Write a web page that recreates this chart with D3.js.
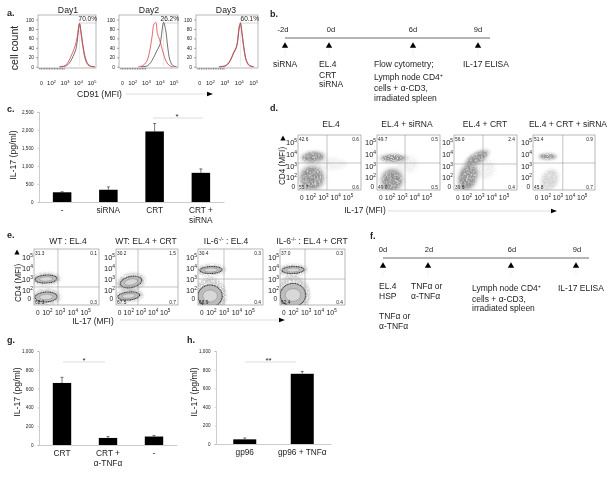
<!DOCTYPE html>
<html><head><meta charset="utf-8">
<script src="https://cdnjs.cloudflare.com/ajax/libs/d3/7.8.5/d3.min.js"></script>
<style>
html,body{margin:0;padding:0;background:#fff}
svg{display:block;filter:blur(0.3px)}
text{font-family:"Liberation Sans",Arial,sans-serif;fill:#222}
</style></head><body>
<svg id="c" width="615" height="477"></svg>
<script>
// ---------- DATA ----------
const histDays = ["Day1","Day2","Day3"];
const histPct = ["70.0%","26.2%","60.1%"];
// [MFI decade, % of max]
const day1Black = [[2.6,0],[3.0,1],[3.2,4],[3.4,11],[3.6,22],[3.8,36],[3.9,52],[4.0,78],[4.08,91],[4.2,72],[4.35,42],[4.5,20],[4.7,6],[4.9,1],[5.2,0]];
const day1Red = [[2.6,0],[3.0,2],[3.2,8],[3.4,19],[3.6,32],[3.75,44],[3.9,62],[4.0,82],[4.08,92],[4.2,68],[4.35,38],[4.5,16],[4.7,4],[4.9,1],[5.2,0]];
const day2Black = [[2.6,0],[3.0,1],[3.2,5],[3.4,13],[3.6,24],[3.8,36],[4.0,48],[4.1,68],[4.25,94],[4.4,78],[4.55,42],[4.7,15],[4.9,3],[5.2,0]];
const day2Red = [[2.4,0],[2.7,2],[3.0,10],[3.2,28],[3.4,62],[3.55,90],[3.68,94],[3.8,70],[3.95,58],[4.1,42],[4.3,22],[4.5,8],[4.75,1],[5.0,0]];
const day3Black = [[2.6,0],[3.0,1],[3.2,5],[3.4,14],[3.6,28],[3.8,40],[3.9,56],[4.0,82],[4.08,93],[4.2,70],[4.35,35],[4.5,13],[4.7,3],[5.0,0]];
const day3Red = [[2.6,0],[3.0,2],[3.2,6],[3.4,15],[3.6,30],[3.8,42],[3.9,60],[4.0,86],[4.08,90],[4.2,66],[4.35,32],[4.5,11],[4.7,2],[5.0,0]];
const histYTicks = [0,20,40,60,80,100];

const cCats = ["-","siRNA","CRT","CRT +|siRNA"];
const cVals = [270,340,1960,810];
const cTops = [285,420,2180,920];
const cTicks = [0,500,1000,1500,2000,2500];

const gCats = ["CRT","CRT +|α-TNFα","-"];
const gVals = [660,75,90];
const gTops = [720,90,102];
const hCats = ["gp96","gp96 + TNFα"];
const hVals = [50,755];
const hTops = [65,780];
const ghTicks = [0,200,400,600,800,1000];

const dTitles = ["EL.4","EL.4 + siRNA","EL.4 + CRT","EL.4 + CRT + siRNA"];
const dQuads = [["42.6","0.6","55.7","0.6"],["49.7","0.5","49.0","0.5"],["56.0","2.4","39.6","0.4"],["51.4","0.9","45.8","0.7"]];
// cloud: [x decade, y decade, rx, ry, rotation, opacity]
const dClouds1 = [[2.16,3.79,.85,.43,-5,1],[2.08,2.0,.9,.95,-10,1],[3.6,3.2,1.2,.5,0,.1]];
const dClouds2 = [[2.25,3.7,.95,.3,0,1],[2.17,1.83,.8,.88,30,1],[3.4,3.2,.8,.7,0,.1]];
const dClouds3 = [[2.81,3.7,.95,.42,-30,1],[2.08,2.08,.68,1.05,18,1],[3.4,2.8,.8,.8,0,.12]];
const dClouds4 = [[2.16,3.83,.68,.24,0,.9],[2.32,1.83,.62,.88,25,.32]];
const dSets = [dClouds1,dClouds2,dClouds3,dClouds4];
const dVert = [3.3,3.22,3.3,3.4];
const dHorz = [3.28,3.28,3.2,3.28];

const eTitles = ["WT : EL.4","WT: EL.4 + CRT","IL-6|-/-| : EL.4","IL-6|-/-| : EL.4 + CRT"];
const eQuads = [["31.3","0.1","68.3","0.3"],["30.2","1.5","67.5","0.7"],["30.4","0.3","68.9","0.4"],["37.0","0.3","62.4","0.4"]];
const eRings1 = [[1.9,3.0,.86,.36,-3],[1.9,1.37,.86,.45,-3]];
const eRings2 = [[2.18,2.73,.9,.5,-12],[2.0,1.46,.9,.36,-5]];
const eRings3 = [[1.97,3.82,.86,.32,-2],[1.9,1.46,.95,1.0,0]];
const eRings4 = [[1.97,3.82,.86,.32,-2],[1.97,1.55,1.0,1.05,-3]];
const eSets = [eRings1,eRings2,eRings3,eRings4];
const eVert = [2.83,2.76,2.99,2.91];
const eHorz = [2.28,2.28,3.0,3.0];

const bEvents = ["-2d","0d","6d","9d"];
const fEvents = ["0d","2d","6d","9d"];
const flowTicks = [["0",1.25],["10|2",2],["10|3",3],["10|4",4],["10|5",5]];

// ---------- HELPERS ----------
const svg = d3.select("#c");
const defs = svg.append("defs");
const speck = defs.append("filter").attr("id","speck").attr("x","-80%").attr("y","-80%").attr("width","260%").attr("height","260%");
speck.append("feGaussianBlur").attr("in","SourceGraphic").attr("stdDeviation",1.2).attr("result","b");
speck.append("feTurbulence").attr("type","fractalNoise").attr("baseFrequency",.7).attr("numOctaves",2).attr("seed",4).attr("result","n");
speck.append("feColorMatrix").attr("in","n").attr("type","matrix").attr("values","0 0 0 0 .28 0 0 0 0 .28 0 0 0 0 .28 4.5 0 0 0 -1.4").attr("result","m");
speck.append("feComposite").attr("in","m").attr("in2","b").attr("operator","in");
const halo = defs.append("filter").attr("id","halo").attr("x","-60%").attr("y","-60%").attr("width","220%").attr("height","220%");
halo.append("feGaussianBlur").attr("stdDeviation",1.8);
const soft = defs.append("filter").attr("id","soft").attr("x","-20%").attr("y","-20%").attr("width","140%").attr("height","140%");
soft.append("feGaussianBlur").attr("stdDeviation",.45);
const marker = (g,x,y,w=3.2,h=5.5)=>g.append("path").attr("d",`M${x},${y-h/2}L${x+w},${y+h/2}L${x-w},${y+h/2}Z`).attr("fill","#000");
function T(g,x,y,s,size=8.5,anchor="start",extra={}){
  const t=g.append("text").attr("x",x).attr("y",y).attr("font-size",size).attr("text-anchor",anchor).text(s);
  for(const k in extra)t.attr(k,extra[k]);
  return t;
}
function supText(g,x,y,base,sup,size,anchor="middle",rest=""){
  const t=g.append("text").attr("x",x).attr("y",y).attr("font-size",size).attr("text-anchor",anchor);
  t.append("tspan").text(base);
  t.append("tspan").attr("dy",-size*.4).attr("font-size",size*.65).text(sup);
  if(rest)t.append("tspan").attr("dy",size*.4).text(rest);
  return t;
}
function arrowX(x0,x1,y){
  svg.append("line").attr("x1",x0).attr("x2",x1).attr("y1",y).attr("y2",y).attr("stroke","#bbb").attr("stroke-width",.5);
  svg.append("path").attr("d",`M${x1},${y-2.2}L${x1+6},${y}L${x1},${y+2.2}Z`).attr("fill","#000");
}

// ---------- PANEL LETTERS ----------
[["a.",7,16],["b.",270,17],["c.",7,112],["d.",270,111],["e.",7,238],["f.",370,239],["g.",7,343],["h.",187,343]]
 .forEach(d=>T(svg,d[1],d[2],d[0],9,"start",{"font-weight":"bold"}));

// ---------- PANEL A ----------
const histBoxes=[[38,96],[119,178],[196,258]];
const histSeries=[[day1Black,day1Red],[day2Black,day2Red],[day3Black,day3Red]];
const histCenters=[68,149,226];
histBoxes.forEach((b,i)=>{
  const g=svg.append("g");
  const x=d3.scaleLinear().domain([1,5.3]).range(b);
  const y=d3.scaleLinear().domain([0,100]).range([66.7,19.5]);
  g.append("rect").attr("x",b[0]).attr("y",15).attr("width",b[1]-b[0]).attr("height",53).attr("fill","none").attr("stroke","#999").attr("stroke-width",.7);
  const ax=g.append("g").attr("transform",`translate(${b[0]},0)`).call(d3.axisLeft(y).tickValues(histYTicks).tickSize(2));
  ax.select(".domain").remove();
  ax.selectAll("line").attr("stroke","#555").attr("stroke-width",.5);
  ax.selectAll("text").attr("font-size",4.8).attr("dx",1).attr("fill","#333");
  // minor ticks
  const mx=g.append("g").attr("transform","translate(0,68)").call(d3.axisBottom(x).tickValues(d3.range(1.1,3,.12)).tickSize(1.6).tickFormat(""));
  mx.select(".domain").remove(); mx.selectAll("line").attr("stroke","#222").attr("stroke-width",.5);
  const line=d3.line().x(d=>x(d[0])).y(d=>y(d[1])).curve(d3.curveCatmullRom);
  g.append("line").attr("x1",x(i==1?4.25:4.08)).attr("x2",b[1]).attr("y1",23).attr("y2",23).attr("stroke","#aaa").attr("stroke-width",.5);
  g.append("line").attr("x1",x(i==1?4.25:4.08)).attr("x2",x(i==1?4.25:4.08)).attr("y1",18).attr("y2",66).attr("stroke","#ccc").attr("stroke-width",.4);
  g.append("path").attr("d",line(histSeries[i][0])).attr("fill","none").attr("stroke","#333").attr("stroke-width",.7);
  g.append("path").attr("d",line(histSeries[i][1])).attr("fill","none").attr("stroke","#d8434d").attr("stroke-width",.8);
  T(g,b[1]+1,20.5,histPct[i],6.5,"end");
  T(svg,histCenters[i],13,histDays[i],8.7,"middle");
  flowTicks.forEach(t=>{
    const p=t[0].split("|");
    if(p.length>1) supText(g,x(t[1]),85,p[0],p[1],6);
    else T(g,x(t[1]),85,p[0],5.2,"middle");
  });
});
T(svg,77,97,"CD91 (MFI)",8.6);
arrowX(126,207,94);
T(svg,0,0,"cell count",10.5,"middle",{transform:"translate(18,48) rotate(-90)"});

// ---------- TIMELINES ----------
function timeline(x0,x1,yLine,events,labelX,arrowXs){
  svg.append("line").attr("x1",x0).attr("x2",x1).attr("y1",yLine).attr("y2",yLine).attr("stroke","#444").attr("stroke-width",.8);
  events.forEach((e,i)=>{
    T(svg,labelX[i],yLine-6,e,7.5,"middle");
    svg.append("line").attr("x1",arrowXs[i]).attr("x2",arrowXs[i]).attr("y1",yLine+9).attr("y2",yLine+18).attr("stroke","#ddd").attr("stroke-width",.4);
    marker(svg,arrowXs[i],yLine+7);
  });
}
timeline(285,490,38,bEvents,[283,331,413,478],[285,329,413,478]);
T(svg,273,67,"siRNA");
T(svg,319,67,"EL.4");T(svg,319,78,"CRT");T(svg,319,87,"siRNA");
T(svg,374,67,"Flow cytometry;");
supText(svg,374,80,"Lymph node CD4","+",8.5,"start");
T(svg,374,91,"cells + α-CD3,");T(svg,374,101,"irradiated spleen");
T(svg,463,67,"IL-17 ELISA");

timeline(383,589,258,fEvents,[383,429,512,577],[383,428,511,576]);
T(svg,379,289,"EL.4");T(svg,379,299,"HSP");T(svg,379,319,"TNFα or");T(svg,379,329,"α-TNFα");
T(svg,411,289,"TNFα or");T(svg,411,299,"α-TNFα");
supText(svg,472,291,"Lymph node CD4","+",8.5,"start");
T(svg,472,302,"cells + α-CD3,");T(svg,472,311,"irradiated spleen");
T(svg,558,291,"IL-17 ELISA");

// ---------- BAR CHARTS ----------
function bars(opts){
  const {cats,vals,tops,ticks,xr,yr,maxV,labelX,labelY,sig}=opts;
  const g=svg.append("g");
  const x=d3.scaleBand().domain(cats).range(xr).paddingInner(.6).paddingOuter(.3);
  const y=d3.scaleLinear().domain([0,maxV]).range(yr);
  const ya=g.append("g").attr("transform",`translate(${xr[0]},0)`).call(d3.axisLeft(y).tickValues(ticks).tickSize(1.5));
  ya.select(".domain").attr("stroke","#aaa").attr("stroke-width",.6);
  ya.selectAll("line").attr("stroke","#aaa").attr("stroke-width",.5);
  ya.selectAll("text").attr("font-size",4.6).attr("fill","#555").attr("dx",-1);
  const xa=g.append("g").attr("transform",`translate(0,${yr[0]})`).call(d3.axisBottom(x).tickSize(0).tickFormat(""));
  xa.select(".domain").attr("stroke","#aaa").attr("stroke-width",.6);
  cats.forEach((c,i)=>{
    const l=x(c)+x.bandwidth()/2;
    g.append("line").attr("x1",l).attr("x2",l).attr("y1",y(tops[i])).attr("y2",y(vals[i])).attr("stroke","#222").attr("stroke-width",.6);
    g.append("line").attr("x1",l-1.5).attr("x2",l+1.5).attr("y1",y(tops[i])).attr("y2",y(tops[i])).attr("stroke","#222").attr("stroke-width",.6);
    c.split("|").forEach((s,j)=>T(g,l,yr[0]+11+j*10,s,8.3,"middle"));
  });
  g.selectAll(".bar").data(cats).enter().append("rect")
    .attr("x",c=>x(c)).attr("width",x.bandwidth())
    .attr("y",(c,i)=>y(vals[i])).attr("height",(c,i)=>yr[0]-y(vals[i])).attr("fill","#000");
  T(g,0,0,"IL-17 (pg/ml)",8.7,"middle",{transform:`translate(${labelX},${labelY}) rotate(-90)`});
  g.append("line").attr("x1",sig[0]).attr("x2",sig[1]).attr("y1",sig[2]).attr("y2",sig[2]).attr("stroke","#bbb").attr("stroke-width",.5);
  T(g,(sig[0]+sig[1])/2+sig[4],sig[2]+.5,sig[3],8,"middle");
}
bars({cats:cCats,vals:cVals,tops:cTops,ticks:cTicks,xr:[39,224],yr:[202,112],maxV:2500,labelX:16,labelY:155,sig:[153,203,118,"*",-1]});
bars({cats:gCats,vals:gVals,tops:gTops,ticks:ghTicks,xr:[39,177],yr:[445,351],maxV:1000,labelX:20,labelY:392,sig:[63,105,362,"*",0]});
bars({cats:hCats,vals:hVals,tops:hTops,ticks:ghTicks,xr:[216,331],yr:[444,351],maxV:1000,labelX:197,labelY:392,sig:[245,296,362,"**",-2]});

// ---------- FLOW PLOTS ----------
function flowFrame(box,yr,yDom,vert,horz,quads){
  const g=svg.append("g");
  const x=d3.scaleLinear().domain([.95,6.05]).range(box);
  const y=d3.scaleLinear().domain(yDom).range(yr);
  return {g,x,y,draw(){
    g.append("rect").attr("x",box[0]).attr("y",yr[1]).attr("width",box[1]-box[0]).attr("height",yr[0]-yr[1]).attr("fill","none").attr("stroke","#888").attr("stroke-width",.6);
    g.append("line").attr("x1",x(vert)).attr("x2",x(vert)).attr("y1",yr[0]).attr("y2",yr[1]).attr("stroke","#888").attr("stroke-width",.5);
    g.append("line").attr("x1",box[0]).attr("x2",box[1]).attr("y1",y(horz)).attr("y2",y(horz)).attr("stroke","#888").attr("stroke-width",.5);
    T(g,box[0]+1,yr[1]+5.5,quads[0],4.8);
    T(g,box[1]-2,yr[1]+5.5,quads[1],4.8,"end");
    T(g,box[0]+1,yr[0]-1.5,quads[2],4.8);
    T(g,box[1]-2,yr[0]-1.5,quads[3],4.8,"end");
    flowTicks.forEach(t=>{
      const p=t[0].split("|");
      const yy=y(t[1])+2.5;
      if(p.length>1){
        supText(g,box[0]-6.5,yy,p[0],p[1],7.5);
        supText(g,x(t[1]),yr[0]+10,p[0],p[1],7);
      }else{
        T(g,box[0]-3,yy,p[0],6.5,"end");
        T(g,x(t[1]),yr[0]+10,p[0],6.5,"middle");
      }
    });
  }};
}
const dBoxes=[[298,361],[377,440],[454,517],[533,595]];
const dCenters=[331,407,485,568];
const dYDom=[.97,5.68], eYDom=[.64,5.73];
dBoxes.forEach((b,i)=>{
  const f=flowFrame(b,[190,135],dYDom,dVert[i],dHorz[i],dQuads[i]);
  const sx=(b[1]-b[0])/5.1, sy=55/(dYDom[1]-dYDom[0]);
  const clip="dc"+i;
  defs.append("clipPath").attr("id",clip).append("rect").attr("x",b[0]).attr("y",135).attr("width",b[1]-b[0]).attr("height",55);
  const lay=f.g.append("g").attr("clip-path",`url(#${clip})`);
  dSets[i].forEach(c=>{
    const cx=f.x(c[0]),cy=f.y(c[1]);
    const tr=`rotate(${c[4]},${cx},${cy})`;
    lay.append("ellipse").attr("cx",cx).attr("cy",cy).attr("rx",c[2]*sx*1.25).attr("ry",c[3]*sy*1.25).attr("transform",tr).attr("fill","#999").attr("opacity",c[5]*.35).attr("filter","url(#halo)");
    lay.append("ellipse").attr("cx",cx).attr("cy",cy).attr("rx",c[2]*sx).attr("ry",c[3]*sy).attr("transform",tr).attr("fill","#000").attr("opacity",c[5]).attr("filter","url(#speck)");
  });
  f.draw();
  T(svg,dCenters[i],127,dTitles[i],8.5,"middle");
});
marker(svg,283,138,2.6,5);
T(svg,0,0,"CD4 (MFI)",8.2,"middle",{transform:"translate(284.5,166) rotate(-90)"});
T(svg,365,213,"IL-17 (MFI)",8.4,"middle");
arrowX(388,551,211);

const eBoxes=[[34,99],[116,178],[198,263],[280,345]];
const eCenters=[68,146,226,312];
eBoxes.forEach((b,i)=>{
  const f=flowFrame(b,[305,249],eYDom,eVert[i],eHorz[i],eQuads[i]);
  const sx=(b[1]-b[0])/5.1, sy=56/(eYDom[1]-eYDom[0]);
  const clip="ec"+i;
  defs.append("clipPath").attr("id",clip).append("rect").attr("x",b[0]).attr("y",249).attr("width",b[1]-b[0]).attr("height",56);
  const lay=f.g.append("g").attr("clip-path",`url(#${clip})`);
  eSets[i].forEach(c=>{
    const cx=f.x(c[0]),cy=f.y(c[1]);
    const tr=`rotate(${c[4]},${cx},${cy})`;
    lay.append("ellipse").attr("cx",cx).attr("cy",cy).attr("rx",c[2]*sx*1.35).attr("ry",c[3]*sy*1.7).attr("transform",tr).attr("fill","#000").attr("opacity",.45).attr("filter","url(#speck)");
    const s=lay.append("g").attr("filter","url(#soft)");
    s.append("ellipse").attr("cx",cx).attr("cy",cy).attr("rx",c[2]*sx).attr("ry",c[3]*sy).attr("transform",tr).attr("fill","#bdbdbd").attr("stroke","#3a3a3a").attr("stroke-width",1.1).attr("stroke-dasharray","1.2 .5");
    s.append("ellipse").attr("cx",cx).attr("cy",cy).attr("rx",c[2]*sx*.6).attr("ry",c[3]*sy*.55).attr("transform",tr).attr("fill","#d8d8d8").attr("stroke","#777").attr("stroke-width",.4);
  });
  f.draw();
  const p=eTitles[i].split("|");
  if(p.length>1) supText(svg,eCenters[i],244,p[0],p[1],8.5,"middle",p[2]);
  else T(svg,eCenters[i],244,p[0],8.5,"middle");
});
marker(svg,17,252,2.6,5);
T(svg,0,0,"CD4 (MFI)",8.2,"middle",{transform:"translate(21,283) rotate(-90)"});
T(svg,93,324,"IL-17 (MFI)",8.4,"middle");
arrowX(120,279,320);
</script>
</body></html>
